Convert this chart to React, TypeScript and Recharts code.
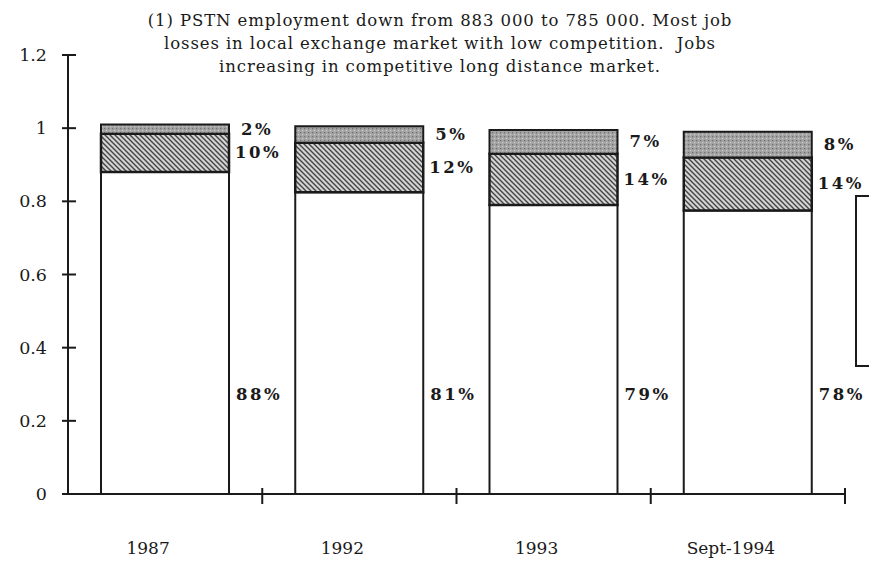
import { BarChart, Bar, XAxis, YAxis, LabelList } from 'recharts';

const years = ['1987', '1992', '1993', 'Sept-1994'];
const localShare = [0.88, 0.825, 0.79, 0.775];
const midShare = [0.105, 0.135, 0.14, 0.145];
const topShare = [0.025, 0.045, 0.065, 0.07];
const localLabels = ['88%', '81%', '79%', '78%'];
const midLabels = ['10%', '12%', '14%', '14%'];
const topLabels = ['2%', '5%', '7%', '8%'];
const yTicks = [0, 0.2, 0.4, 0.6, 0.8, 1, 1.2];
const titleLines = [
  '(1) PSTN employment down from 883 000 to 785 000. Most job',
  'losses in local exchange market with low competition.  Jobs',
  'increasing in competitive long distance market.',
];

const data = years.map((year, i) => ({
  year,
  local: localShare[i],
  mid: midShare[i],
  top: topShare[i],
}));

const SERIF = '"DejaVu Serif", "Liberation Serif", serif';
const INK = '#1a1a1a';
const AXIS_X = 68;

const YTick = ({ y, payload }: any) => (
  <g>
    <line x1={AXIS_X - 6} x2={AXIS_X + 8} y1={y} y2={y} stroke={INK} strokeWidth={2} />
    <text x={AXIS_X - 21} y={y} textAnchor="end" dominantBaseline="central"
      fontFamily={SERIF} fontSize={17.5} fill={INK}>
      {payload.value}
    </text>
  </g>
);

const XTick = ({ x, y, payload }: any) => {
  const half = payload.offset || 97;
  return (
    <g>
      <line x1={x + half} x2={x + half} y1={y - 14} y2={y + 2} stroke={INK} strokeWidth={2} />
      <text x={x - 17} y={y + 46} textAnchor="middle" dominantBaseline="central"
        fontFamily={SERIF} fontSize={17} fill={INK}>
        {payload.value}
      </text>
    </g>
  );
};

const pctText = (labels: string[], dx: number, bottomLift?: number) => (props: any) => {
  const { x, y, width, height, index } = props;
  const ty = bottomLift ? y + height - bottomLift : y + height / 2;
  return (
    <text x={x + width + dx} y={ty} dominantBaseline="central" letterSpacing={2.5}
      fontFamily={SERIF} fontWeight="bold" fontSize={16.5} fill={INK}>
      {labels[index]}
    </text>
  );
};

export default function App() {
  return (
    <div style={{ position: 'absolute', left: 0, top: 0, width: 869, height: 565, overflow: 'hidden', background: '#fff' }}>
      <div style={{ position: 'absolute', left: 0, top: 9, width: 880, textAlign: 'center', fontFamily: SERIF, fontSize: 16.5, letterSpacing: 0.9, lineHeight: '23px', color: INK }}>
        {titleLines.map((t) => (
          <div key={t} style={{ whiteSpace: 'pre' }}>{t}</div>
        ))}
      </div>
      <BarChart width={869} height={565} data={data} barSize={128}
        margin={{ top: 55, right: 24, bottom: 11, left: 0 }}>
        <defs>
          <pattern id="hatch" width="5" height="5" patternUnits="userSpaceOnUse">
            <rect width="5" height="5" fill="#d4d4d4" />
            <path d="M-1,-1 L6,6 M-1,4 L1,6 M4,-1 L6,1" stroke="#444" strokeWidth={1.4} />
          </pattern>
          <pattern id="stipple" width="4" height="4" patternUnits="userSpaceOnUse">
            <rect width="4" height="4" fill="#a2a2a2" />
            <rect x="0" y="0" width="1.2" height="1.2" fill="#707070" />
            <rect x="2" y="2" width="1.2" height="1.2" fill="#cfcfcf" />
          </pattern>
        </defs>
        <XAxis dataKey="year" tick={<XTick />} tickLine={false}
          axisLine={{ stroke: INK, strokeWidth: 2 }} height={60} interval={0} />
        <YAxis domain={[0, 1.2]} ticks={yTicks} tick={<YTick />} tickLine={false}
          axisLine={{ stroke: INK, strokeWidth: 2 }} width={AXIS_X} />
        <Bar dataKey="local" stackId="s" fill="#fff" stroke={INK} strokeWidth={2} isAnimationActive={false}>
          <LabelList dataKey="local" content={pctText(localLabels, 7, 100)} />
        </Bar>
        <Bar dataKey="mid" stackId="s" fill="url(#hatch)" stroke={INK} strokeWidth={2.5} isAnimationActive={false}>
          <LabelList dataKey="mid" content={pctText(midLabels, 6)} />
        </Bar>
        <Bar dataKey="top" stackId="s" fill="url(#stipple)" stroke={INK} strokeWidth={2} isAnimationActive={false}>
          <LabelList dataKey="top" content={pctText(topLabels, 12)} />
        </Bar>
      </BarChart>
      <div style={{ position: 'absolute', left: 855, top: 195, width: 40, height: 168, border: `2px solid ${INK}`, background: '#fff' }} />
    </div>
  );
}
